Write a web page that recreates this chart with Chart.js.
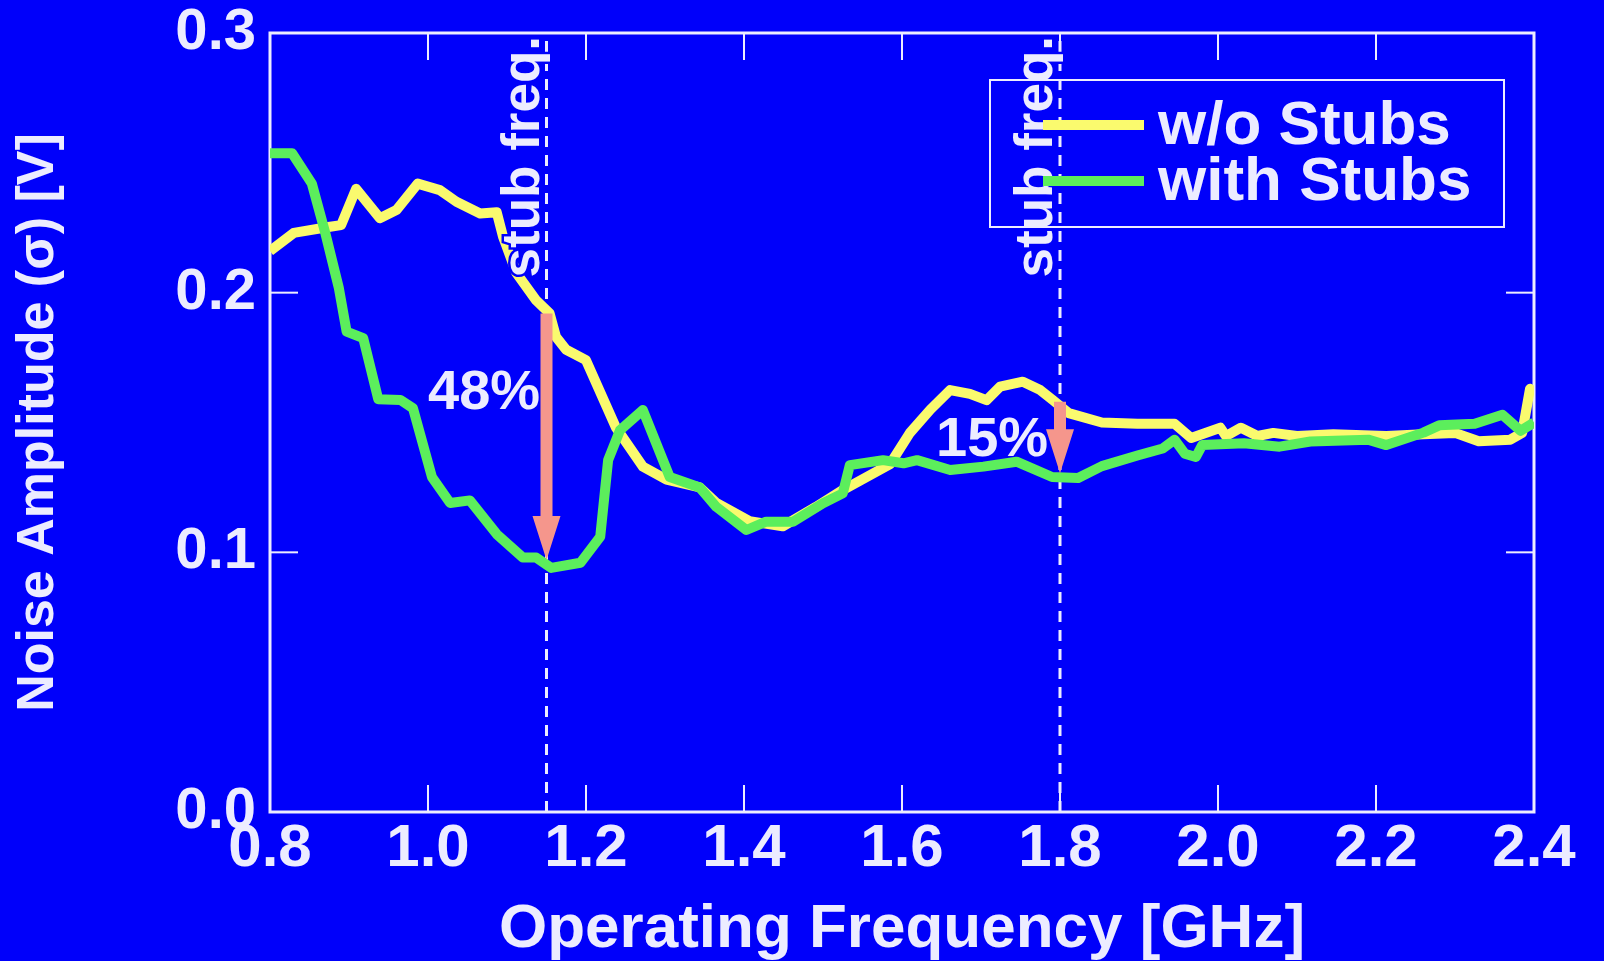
<!DOCTYPE html>
<html>
<head>
<meta charset="utf-8">
<script src="https://cdn.jsdelivr.net/npm/chart.js@4.4.0/dist/chart.umd.min.js"></script>
<style>
  html, body { margin: 0; padding: 0; background: #0000fa; }
  #wrap { width: 1604px; height: 961px; position: relative; }
</style>
</head>
<body>
<div id="wrap"><canvas id="grafico"></canvas></div>
<script>
// datos
const freqWo = [0.800,0.830,0.876,0.890,0.909,0.939,0.960,0.987,1.015,1.036,1.066,1.087,1.095,1.112,1.137,1.154,1.162,1.175,1.200,1.238,1.272,1.302,1.344,1.365,1.407,1.449,1.491,1.525,1.555,1.585,1.610,1.636,1.661,1.686,1.707,1.724,1.753,1.775,1.791,1.811,1.853,1.898,1.945,1.966,2.003,2.010,2.029,2.050,2.070,2.100,2.146,2.213,2.260,2.300,2.330,2.370,2.385,2.395,2.400];
const noiseWo = [0.216,0.223,0.2254,0.226,0.240,0.2287,0.2318,0.242,0.2395,0.235,0.2305,0.231,0.2215,0.2075,0.197,0.192,0.183,0.178,0.174,0.148,0.133,0.128,0.125,0.119,0.112,0.110,0.1175,0.124,0.129,0.134,0.146,0.155,0.1625,0.161,0.1586,0.1638,0.1657,0.1625,0.1586,0.1536,0.150,0.1495,0.1495,0.144,0.148,0.1448,0.148,0.1448,0.146,0.1448,0.1455,0.1448,0.1455,0.146,0.1428,0.1434,0.146,0.163,0.161];

const freqWith = [0.800,0.828,0.853,0.870,0.887,0.897,0.918,0.937,0.965,0.981,1.005,1.028,1.053,1.087,1.120,1.137,1.156,1.193,1.218,1.228,1.243,1.272,1.306,1.344,1.365,1.403,1.428,1.462,1.500,1.525,1.534,1.576,1.602,1.619,1.661,1.703,1.745,1.790,1.823,1.853,1.898,1.930,1.945,1.958,1.972,1.980,2.033,2.078,2.117,2.190,2.213,2.260,2.280,2.325,2.360,2.383,2.400];
const noiseWith = [0.2537,0.2537,0.242,0.223,0.202,0.185,0.1825,0.159,0.1587,0.1555,0.129,0.119,0.120,0.107,0.098,0.098,0.094,0.096,0.106,0.1355,0.147,0.1548,0.129,0.125,0.1175,0.1086,0.1118,0.1118,0.1189,0.1227,0.1336,0.1355,0.1343,0.1355,0.1317,0.133,0.1349,0.129,0.1286,0.1332,0.1373,0.140,0.1434,0.138,0.1367,0.1413,0.142,0.1407,0.1427,0.1434,0.1413,0.1461,0.1489,0.1495,0.153,0.1468,0.150];

const seriesLabels = ['w/o Stubs', 'with Stubs'];

// ejes
const xMin = 0.8, xMax = 2.4, xStep = 0.2;
const yMin = 0.0, yMax = 0.3, yStep = 0.1;

// anotaciones (en unidades de datos)
const stubFreqs = [1.15, 1.8];
const arrowTop = [0.192, 0.158];
const arrowTip = [0.097, 0.1305];
const reductionText = ['48%', '15%'];
const reductionX = [1.071, 1.714];
const reductionY = [0.161, 0.143];

const FONT = '"Liberation Sans", Arial, Helvetica, sans-serif';
const WHITE = '#ececff';
const YELLOW = '#fafa6e';
const GREEN = '#5cee5c';
const SALMON = '#f5968c';
const BLUE = '#0000fa';

function toPoints(xs, ys) {
    return xs.map((v, i) => ({ x: v, y: ys[i] }));
}

function linea(ctx, x1, y1, x2, y2) {
    ctx.beginPath();
    ctx.moveTo(x1, y1);
    ctx.lineTo(x2, y2);
    ctx.stroke();
}

// marco, marcas interiores y líneas de frecuencia de stub
const overlayPlugin = {
    id: 'overlay',
    beforeDatasetsDraw(chart) {
        const { ctx, chartArea: a, scales: { x, y } } = chart;
        ctx.save();
        ctx.strokeStyle = WHITE;
        ctx.lineWidth = 3;
        ctx.setLineDash([11, 8]);
        stubFreqs.forEach(f => {
            const px = x.getPixelForValue(f);
            linea(ctx, px, a.bottom, px, a.top);
        });
        ctx.setLineDash([]);
        ctx.strokeRect(a.left, a.top, a.right - a.left, a.bottom - a.top);
        ctx.lineWidth = 2;
        x.ticks.forEach(t => {
            const px = x.getPixelForValue(t.value);
            linea(ctx, px, a.bottom, px, a.bottom - 27);
            linea(ctx, px, a.top, px, a.top + 27);
        });
        y.ticks.forEach(t => {
            const py = y.getPixelForValue(t.value);
            linea(ctx, a.left, py, a.left + 28, py);
            linea(ctx, a.right, py, a.right - 28, py);
        });
        ctx.restore();
    },
    afterDatasetsDraw(chart) {
        const { ctx, chartArea: a, scales: { x, y } } = chart;
        ctx.save();

        // texto "stub freq." vertical
        ctx.font = 'bold 53px ' + FONT;
        ctx.textAlign = 'right';
        ctx.textBaseline = 'alphabetic';
        stubFreqs.forEach(f => {
            const px = x.getPixelForValue(f);
            ctx.save();
            ctx.translate(px - 8, a.top + 3);
            ctx.rotate(-Math.PI / 2);
            ctx.lineWidth = 5;
            ctx.strokeStyle = BLUE;
            ctx.strokeText('stub freq.', 0, 0);
            ctx.fillStyle = WHITE;
            ctx.fillText('stub freq.', 0, 0);
            ctx.restore();
        });

        // flechas
        ctx.fillStyle = SALMON;
        stubFreqs.forEach((f, i) => {
            const px = x.getPixelForValue(f);
            const y0 = y.getPixelForValue(arrowTop[i]);
            const y1 = y.getPixelForValue(arrowTip[i]);
            const headLen = 44, headW = 14, shaftW = 6;
            ctx.beginPath();
            ctx.moveTo(px - shaftW, y0);
            ctx.lineTo(px + shaftW, y0);
            ctx.lineTo(px + shaftW, y1 - headLen);
            ctx.lineTo(px + headW, y1 - headLen);
            ctx.lineTo(px, y1);
            ctx.lineTo(px - headW, y1 - headLen);
            ctx.lineTo(px - shaftW, y1 - headLen);
            ctx.closePath();
            ctx.fill();
        });

        // porcentajes
        ctx.font = 'bold 56px ' + FONT;
        ctx.textAlign = 'center';
        ctx.textBaseline = 'middle';
        ctx.fillStyle = WHITE;
        reductionText.forEach((t, i) => {
            ctx.fillText(t, x.getPixelForValue(reductionX[i]), y.getPixelForValue(reductionY[i]));
        });

        // leyenda
        ctx.strokeStyle = WHITE;
        ctx.lineWidth = 2;
        ctx.strokeRect(990, 80, 514, 147);
        ctx.font = 'bold 62px ' + FONT;
        ctx.textAlign = 'left';
        chart.data.datasets.forEach((ds, i) => {
            const ly = 125 + i * 56;
            ctx.strokeStyle = ds.borderColor;
            ctx.lineWidth = 10;
            linea(ctx, 1043, ly, 1144, ly);
            ctx.fillStyle = WHITE;
            ctx.fillText(ds.label, 1158, ly + 2);
        });
        ctx.restore();
    }
};

const ctx = document.getElementById('grafico').getContext('2d');
new Chart(ctx, {
    type: 'line',
    data: {
        datasets: [{
            label: seriesLabels[0],
            data: toPoints(freqWo, noiseWo),
            borderColor: YELLOW,
            borderWidth: 10,
            borderJoinStyle: 'round',
            pointRadius: 0,
            tension: 0,
            order: 1
        }, {
            label: seriesLabels[1],
            data: toPoints(freqWith, noiseWith),
            borderColor: GREEN,
            borderWidth: 10,
            borderJoinStyle: 'round',
            pointRadius: 0,
            tension: 0,
            order: 0
        }]
    },
    options: {
        responsive: true,
        maintainAspectRatio: false,
        animation: false,
        layout: { padding: { top: 33, right: 70, left: 0, bottom: 0 } },
        plugins: {
            legend: { display: false },
            tooltip: { enabled: false }
        },
        scales: {
            x: {
                type: 'linear',
                min: xMin,
                max: xMax,
                grid: { display: false, drawTicks: false },
                border: { display: false },
                ticks: {
                    stepSize: xStep,
                    color: WHITE,
                    padding: 1,
                    maxRotation: 0,
                    autoSkip: false,
                    font: { family: FONT, size: 60, weight: 'bold', lineHeight: 1.2 },
                    callback: v => v.toFixed(1)
                },
                title: {
                    display: true,
                    text: 'Operating Frequency [GHz]',
                    color: WHITE,
                    padding: 0,
                    font: { family: FONT, size: 62, weight: 'bold', lineHeight: 1.0 }
                },
                afterFit: s => { s.height = 961 - 812; s.paddingLeft = 0; s.paddingRight = 0; }
            },
            y: {
                min: yMin,
                max: yMax,
                grid: { display: false, drawTicks: false },
                border: { display: false },
                ticks: {
                    stepSize: yStep,
                    color: WHITE,
                    padding: 14,
                    font: { family: FONT, size: 58, weight: 'bold' },
                    callback: v => v.toFixed(1)
                },
                title: {
                    display: true,
                    text: 'Noise Amplitude (σ) [V]',
                    color: WHITE,
                    padding: { top: 13, bottom: 0 },
                    font: { family: FONT, size: 52, weight: 'bold', lineHeight: 1.0 }
                },
                afterFit: s => { s.width = 270; s.paddingTop = 0; s.paddingBottom = 0; }
            }
        }
    },
    plugins: [overlayPlugin]
});
</script>
</body>
</html>
